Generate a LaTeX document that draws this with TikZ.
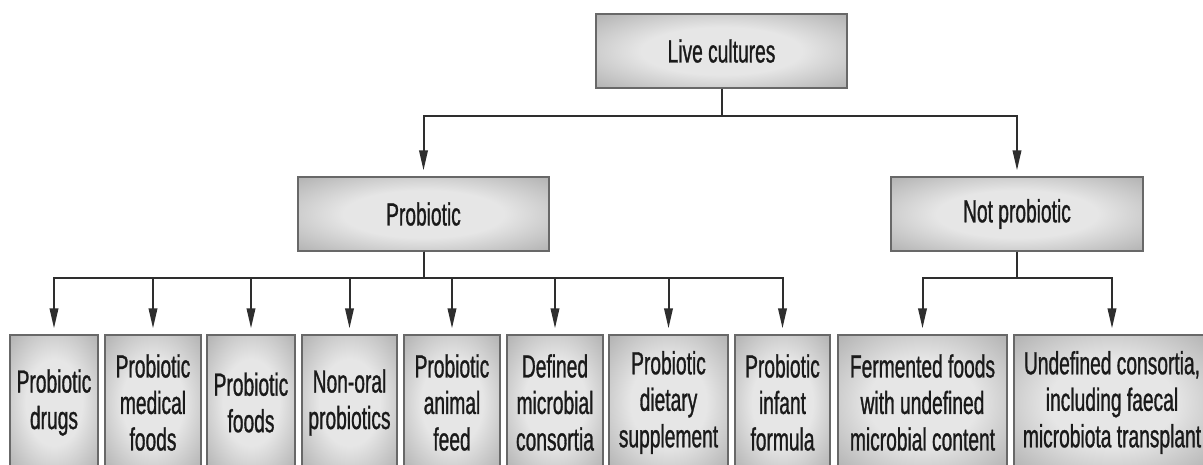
\documentclass[tikz,border=0pt]{standalone}
\usepackage{fontspec}
\setmainfont{Liberation Sans}[FakeStretch=0.6,FakeBold=0.9]
\usetikzlibrary{arrows.meta}
\definecolor{shadein}{HTML}{E6E6E6}
\definecolor{shadeout}{HTML}{A6A6A6}
\definecolor{boxline}{HTML}{686868}
\definecolor{linecol}{HTML}{2E2E2E}
\definecolor{txtcol}{HTML}{1A1A1A}
\pgfdeclareradialshading{boxshade}{\pgfpoint{0bp}{0bp}}{color(0bp)=(shadein); color(16bp)=(shadein); color(40bp)=(shadeout); color(50bp)=(shadeout)}
\tikzset{
  catbox/.style={draw=boxline, line width=1.3pt, shading=boxshade, inner sep=0pt,
    align=center, text=txtcol, font=\fontsize{32}{36.5}\selectfont},
  arr/.style={draw=linecol, line width=2pt, -{Triangle[length=20pt,width=8.5pt]}, shorten >=6pt},
  conn/.style={draw=linecol, line width=2pt}
}
\begin{document}
\begin{tikzpicture}[x=1pt,y=-1pt]
\clip (0,0) rectangle (1203,464);
\fill[white] (0,0) rectangle (1203,464);
% top level
\node[catbox, minimum width=251pt, minimum height=74pt] (live) at (721.5,51) {Live cultures};
\node[catbox, minimum width=251pt, minimum height=74pt] (prob) at (423.5,214) {Probiotic};
\node[catbox, minimum width=252pt, minimum height=74pt] (notp) at (1017,214) {Not probiotic};
% bottom level
\node[catbox, minimum width=88pt, minimum height=135pt] (b1) at (54,402.5) {Probiotic\\drugs};
\node[catbox, minimum width=96pt, minimum height=135pt] (b2) at (153,402.5) {Probiotic\\medical\\foods};
\node[catbox, minimum width=88pt, minimum height=135pt] (b3) at (251,402.5) {Probiotic\\foods};
\node[catbox, minimum width=95pt, minimum height=135pt] (b4) at (349.5,402.5) {Non-oral\\probiotics};
\node[catbox, minimum width=96pt, minimum height=135pt] (b5) at (452,402.5) {Probiotic\\animal\\feed};
\node[catbox, minimum width=96pt, minimum height=135pt] (b6) at (555,402.5) {Defined\\microbial\\consortia};
\node[catbox, minimum width=119pt, minimum height=135pt] (b7) at (668.5,402.5) {Probiotic\\dietary\\supplement};
\node[catbox, minimum width=95pt, minimum height=135pt] (b8) at (782.5,402.5) {Probiotic\\infant\\formula};
\node[catbox, minimum width=169pt, minimum height=135pt] (b9) at (922.5,402.5) {Fermented foods\\with undefined\\microbial content};
\node[catbox, minimum width=196pt, minimum height=135pt] (b10) at (1112,402.5) {Undefined consortia,\\including faecal\\microbiota transplant};
% bars
\coordinate (bar1) at (0,116);
\coordinate (bar2) at (0,278);
% connectors from live cultures
\draw[arr] (live.south) -- (live.south |- bar1) -| (prob.north);
\draw[arr] (live.south) -- (live.south |- bar1) -| (notp.north);
% connectors from probiotic
\foreach \b in {b1,b2,b3,b4,b5,b6,b7,b8}{
  \draw[arr] (prob.south) -- (prob.south |- bar2) -| (\b.north);
}
% connectors from not probiotic
\foreach \b in {b9,b10}{
  \draw[arr] (notp.south) -- (notp.south |- bar2) -| (\b.north);
}
\end{tikzpicture}
\end{document}
